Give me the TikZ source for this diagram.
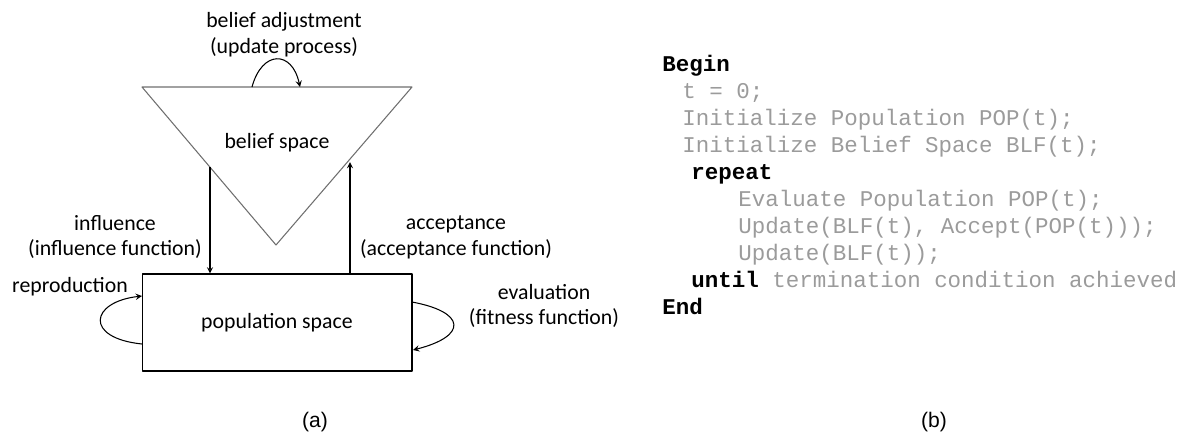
\documentclass[tikz,border=0pt]{standalone}
\usepackage{fontspec}
\setmainfont{Carlito}
\newfontfamily\arialfont{Liberation Sans}
\newfontfamily\courfont{Liberation Mono}
\definecolor{codegray}{RGB}{155,155,155}
\definecolor{linegray}{RGB}{110,110,110}
\begin{document}
\begin{tikzpicture}[x=0.02cm, y=-0.02cm, line join=round, >=stealth,
		lbl/.style={font=\fontsize{12.4}{14.7}\selectfont, align=center, inner sep=0pt},
		code/.style={font=\courfont\fontsize{12.8}{15}\selectfont, text=codegray, anchor=base west, inner sep=0pt},
		kw/.style={code, text=black, font=\courfont\bfseries\fontsize{12.8}{15}\selectfont},
		tag/.style={font=\arialfont\fontsize{12}{14}\selectfont, inner sep=0pt}]
	\useasboundingbox (0,0) rectangle (1184,434);
	
	% belief space
	\coordinate (tl) at (142,87);
	\coordinate (tr) at (412,87);
	\coordinate (apex) at (276,245);
	\draw[linegray, line width=0.6pt] (tl) -- (tr) -- (apex) -- cycle;
	\node[lbl] (belief) at (277,143) {belief space};
	
	% population space
	\node[draw, line width=0.6pt, minimum width=5.4cm, minimum height=1.94cm, lbl] (pop) at (277,322.5) {population space};
	
	% influence and acceptance
	\coordinate (inf) at (210,167);
	\coordinate (acc) at (350,162);
	\draw[->, line width=0.6pt] (inf) -- (inf |- pop.north);
	\draw[->, line width=0.6pt] (acc |- pop.north) -- (acc);
	\node[lbl] (inflbl) at (115,237) {influence\\(influence function)};
	\node[lbl] (acclbl) at (456,237) {acceptance\\(acceptance function)};
	
	% loops
	\coordinate (ba1) at (252,87);
	\coordinate (ba2) at (300,87);
	\draw[->, line width=0.6pt] (ba1) .. controls (262,50) and (292,50) .. (ba2);
	\node[lbl] (adjlbl) at (284,35) {belief adjustment\\(update process)};
	
	\coordinate (rp1) at (142,344);
	\coordinate (rp2) at (142,296);
	\draw[->, line width=0.6pt] (rp1) .. controls (84,338) and (90,302) .. (rp2);
	\node[lbl] (replbl) at (70,287) {reproduction};
	
	\coordinate (ev1) at (412,302);
	\coordinate (ev2) at (413,350);
	\draw[->, line width=0.6pt] (ev1) .. controls (466,312) and (468,336) .. (ev2);
	\node[lbl] (evlbl) at (544,306) {evaluation\\(fitness function)};
	
	% pseudocode
	\node[kw] (c1) at (662,71) {Begin};
	\node[code] (c2) at (682,98) {t = 0;};
	\node[code] (c3) at (682,125) {Initialize Population POP(t);};
	\node[code] (c4) at (682,152) {Initialize Belief Space BLF(t);};
	\node[kw] (c5) at (691,179) {repeat};
	\node[code] (c6) at (738,206) {Evaluate Population POP(t);};
	\node[code] (c7) at (738,233) {Update(BLF(t), Accept(POP(t)));};
	\node[code] (c8) at (738,260) {Update(BLF(t));};
	\node[code] (c9) at (691,287) {\textcolor{black}{\bfseries until} termination condition achieved};
	\node[kw] (c10) at (662,314) {End};
	
	\node[tag] (capa) at (315,422) {(a)};
	\node[tag] (capb) at (934,422) {(b)};
\end{tikzpicture}
\end{document}
